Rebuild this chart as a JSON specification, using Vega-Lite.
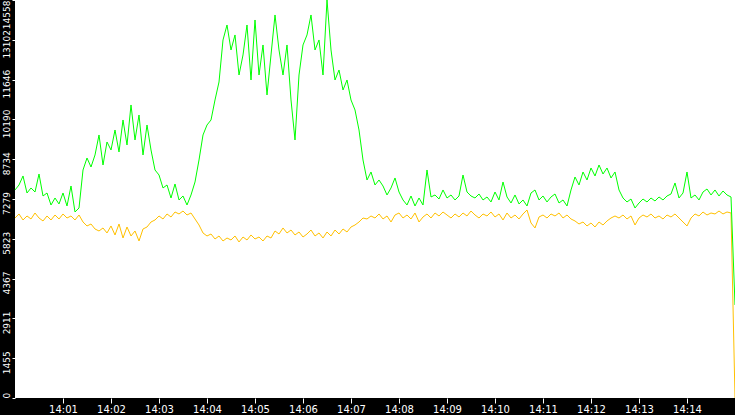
{
  "$schema": "https://vega.github.io/schema/vega-lite/v6.json",
  "width": 720,
  "height": 398,
  "autosize": "none",
  "padding": {"left": 15, "top": 0, "right": 0, "bottom": 17},
  "background": "#000000",
  "data": {
    "format": {"parse": {"t": "date:'%H:%M:%S'"}},
    "values": [
      {"t":"14:00:00","g":7609,"y":6584},{"t":"14:00:05","g":7792,"y":6731},{"t":"14:00:10","g":8121,"y":6511},{"t":"14:00:15","g":7499,"y":6658},
      {"t":"14:00:20","g":7682,"y":6548},{"t":"14:00:25","g":7535,"y":6767},{"t":"14:00:30","g":8194,"y":6584},{"t":"14:00:35","g":7389,"y":6475},
      {"t":"14:00:40","g":7499,"y":6658},{"t":"14:00:45","g":7060,"y":6511},{"t":"14:00:50","g":7316,"y":6694},{"t":"14:00:55","g":7097,"y":6548},
      {"t":"14:01:00","g":7499,"y":6731},{"t":"14:01:05","g":7023,"y":6584},{"t":"14:01:10","g":7755,"y":6658},{"t":"14:01:15","g":6804,"y":6511},
      {"t":"14:01:20","g":6950,"y":6694},{"t":"14:01:25","g":8340,"y":6438},{"t":"14:01:30","g":8779,"y":6292},{"t":"14:01:35","g":8450,"y":6365},
      {"t":"14:01:40","g":8889,"y":6182},{"t":"14:01:45","g":9621,"y":6109},{"t":"14:01:50","g":8523,"y":6219},{"t":"14:01:55","g":9364,"y":6036},
      {"t":"14:02:00","g":9072,"y":6292},{"t":"14:02:05","g":9803,"y":5963},{"t":"14:02:10","g":8999,"y":6365},{"t":"14:02:15","g":10169,"y":5853},
      {"t":"14:02:20","g":9255,"y":6255},{"t":"14:02:25","g":10718,"y":5926},{"t":"14:02:30","g":9438,"y":6109},{"t":"14:02:35","g":10352,"y":5743},
      {"t":"14:02:40","g":8889,"y":6182},{"t":"14:02:45","g":9986,"y":6255},{"t":"14:02:50","g":9072,"y":6438},{"t":"14:02:55","g":8340,"y":6511},
      {"t":"14:03:00","g":8157,"y":6658},{"t":"14:03:05","g":7682,"y":6548},{"t":"14:03:10","g":7792,"y":6731},{"t":"14:03:15","g":7316,"y":6621},
      {"t":"14:03:20","g":7828,"y":6804},{"t":"14:03:25","g":7243,"y":6731},{"t":"14:03:30","g":7389,"y":6840},{"t":"14:03:35","g":7060,"y":6694},
      {"t":"14:03:40","g":7426,"y":6767},{"t":"14:03:45","g":7901,"y":6548},{"t":"14:03:50","g":8706,"y":6328},{"t":"14:03:55","g":9621,"y":6036},
      {"t":"14:04:00","g":9986,"y":5926},{"t":"14:04:05","g":10169,"y":5999},{"t":"14:04:10","g":10901,"y":5816},{"t":"14:04:15","g":11559,"y":5926},
      {"t":"14:04:20","g":13096,"y":5743},{"t":"14:04:25","g":13644,"y":5853},{"t":"14:04:30","g":12730,"y":5780},{"t":"14:04:35","g":13279,"y":5926},
      {"t":"14:04:40","g":11815,"y":5707},{"t":"14:04:45","g":12547,"y":5889},{"t":"14:04:50","g":13644,"y":5780},{"t":"14:04:55","g":11632,"y":5963},
      {"t":"14:05:00","g":13827,"y":5816},{"t":"14:05:05","g":11815,"y":5889},{"t":"14:05:10","g":12913,"y":5743},{"t":"14:05:15","g":11084,"y":5926},
      {"t":"14:05:20","g":12547,"y":5853},{"t":"14:05:25","g":14010,"y":6109},{"t":"14:05:30","g":12730,"y":5999},{"t":"14:05:35","g":11815,"y":6219},
      {"t":"14:05:40","g":12913,"y":6036},{"t":"14:05:45","g":10901,"y":6145},{"t":"14:05:50","g":9438,"y":5963},{"t":"14:05:55","g":11815,"y":6072},
      {"t":"14:06:00","g":12913,"y":5889},{"t":"14:06:05","g":13279,"y":5999},{"t":"14:06:10","g":14010,"y":6145},{"t":"14:06:15","g":12730,"y":5926},
      {"t":"14:06:20","g":13096,"y":6036},{"t":"14:06:25","g":11815,"y":5853},{"t":"14:06:30","g":14558,"y":6072},{"t":"14:06:35","g":12730,"y":5926},
      {"t":"14:06:40","g":11632,"y":6145},{"t":"14:06:45","g":11998,"y":5999},{"t":"14:06:50","g":11266,"y":6182},{"t":"14:06:55","g":11632,"y":6072},
      {"t":"14:07:00","g":10901,"y":6255},{"t":"14:07:05","g":10535,"y":6328},{"t":"14:07:10","g":9803,"y":6438},{"t":"14:07:15","g":8706,"y":6584},
      {"t":"14:07:20","g":7974,"y":6548},{"t":"14:07:25","g":8267,"y":6658},{"t":"14:07:30","g":7792,"y":6584},{"t":"14:07:35","g":7974,"y":6731},
      {"t":"14:07:40","g":7755,"y":6548},{"t":"14:07:45","g":7426,"y":6658},{"t":"14:07:50","g":7682,"y":6438},{"t":"14:07:55","g":8048,"y":6694},
      {"t":"14:08:00","g":7535,"y":6767},{"t":"14:08:05","g":7243,"y":6584},{"t":"14:08:10","g":7060,"y":6694},{"t":"14:08:15","g":7389,"y":6548},
      {"t":"14:08:20","g":7023,"y":6767},{"t":"14:08:25","g":7316,"y":6438},{"t":"14:08:30","g":7060,"y":6621},{"t":"14:08:35","g":8340,"y":6731},
      {"t":"14:08:40","g":7353,"y":6584},{"t":"14:08:45","g":7426,"y":6767},{"t":"14:08:50","g":7279,"y":6658},{"t":"14:08:55","g":7609,"y":6804},
      {"t":"14:09:00","g":7316,"y":6694},{"t":"14:09:05","g":7426,"y":6584},{"t":"14:09:10","g":7243,"y":6731},{"t":"14:09:15","g":7389,"y":6621},
      {"t":"14:09:20","g":8157,"y":6767},{"t":"14:09:25","g":7535,"y":6658},{"t":"14:09:30","g":7389,"y":6840},{"t":"14:09:35","g":7316,"y":6694},
      {"t":"14:09:40","g":7462,"y":6584},{"t":"14:09:45","g":7243,"y":6731},{"t":"14:09:50","g":7353,"y":6658},{"t":"14:09:55","g":7170,"y":6804},
      {"t":"14:10:00","g":7535,"y":6621},{"t":"14:10:05","g":7243,"y":6731},{"t":"14:10:10","g":7901,"y":6511},{"t":"14:10:15","g":7353,"y":6767},
      {"t":"14:10:20","g":7133,"y":6584},{"t":"14:10:25","g":7426,"y":6694},{"t":"14:10:30","g":7097,"y":6548},{"t":"14:10:35","g":7243,"y":6731},
      {"t":"14:10:40","g":7023,"y":6877},{"t":"14:10:45","g":7499,"y":6402},{"t":"14:10:50","g":7609,"y":6219},{"t":"14:10:55","g":7243,"y":6621},
      {"t":"14:11:00","g":7389,"y":6694},{"t":"14:11:05","g":7170,"y":6584},{"t":"14:11:10","g":7353,"y":6731},{"t":"14:11:15","g":7462,"y":6658},
      {"t":"14:11:20","g":7133,"y":6767},{"t":"14:11:25","g":7243,"y":6584},{"t":"14:11:30","g":7023,"y":6694},{"t":"14:11:35","g":7609,"y":6548},
      {"t":"14:11:40","g":8084,"y":6475},{"t":"14:11:45","g":7792,"y":6365},{"t":"14:11:50","g":8267,"y":6438},{"t":"14:11:55","g":7974,"y":6292},
      {"t":"14:12:00","g":8413,"y":6402},{"t":"14:12:05","g":8121,"y":6255},{"t":"14:12:10","g":8523,"y":6438},{"t":"14:12:15","g":8194,"y":6328},
      {"t":"14:12:20","g":8413,"y":6475},{"t":"14:12:25","g":8048,"y":6584},{"t":"14:12:30","g":8267,"y":6658},{"t":"14:12:35","g":7609,"y":6584},
      {"t":"14:12:40","g":7316,"y":6694},{"t":"14:12:45","g":7170,"y":6548},{"t":"14:12:50","g":7279,"y":6658},{"t":"14:12:55","g":6950,"y":6328},
      {"t":"14:13:00","g":7133,"y":6584},{"t":"14:13:05","g":7279,"y":6694},{"t":"14:13:10","g":7170,"y":6621},{"t":"14:13:15","g":7316,"y":6731},
      {"t":"14:13:20","g":7206,"y":6584},{"t":"14:13:25","g":7353,"y":6658},{"t":"14:13:30","g":7243,"y":6548},{"t":"14:13:35","g":7389,"y":6694},
      {"t":"14:13:40","g":7462,"y":6621},{"t":"14:13:45","g":7865,"y":6731},{"t":"14:13:50","g":7316,"y":6584},{"t":"14:13:55","g":7499,"y":6438},
      {"t":"14:14:00","g":8267,"y":6292},{"t":"14:14:05","g":7316,"y":6584},{"t":"14:14:10","g":7426,"y":6731},{"t":"14:14:15","g":7243,"y":6658},
      {"t":"14:14:20","g":7535,"y":6804},{"t":"14:14:25","g":7645,"y":6694},{"t":"14:14:30","g":7426,"y":6767},{"t":"14:14:35","g":7609,"y":6731},
      {"t":"14:14:40","g":7389,"y":6840},{"t":"14:14:45","g":7572,"y":6731},{"t":"14:14:50","g":7426,"y":6804},{"t":"14:14:55","g":7353,"y":6767},
      {"t":"14:15:00","g":3402,"y":0}
    ]
  },
  "encoding": {
    "x": {
      "field": "t",
      "type": "temporal",
      "scale": {"nice": false},
      "axis": {
        "title": null,
        "format": "%H:%M",
        "values": [
          {"year": 1900, "month": 1, "date": 1, "hours": 14, "minutes": 1},
          {"year": 1900, "month": 1, "date": 1, "hours": 14, "minutes": 2},
          {"year": 1900, "month": 1, "date": 1, "hours": 14, "minutes": 3},
          {"year": 1900, "month": 1, "date": 1, "hours": 14, "minutes": 4},
          {"year": 1900, "month": 1, "date": 1, "hours": 14, "minutes": 5},
          {"year": 1900, "month": 1, "date": 1, "hours": 14, "minutes": 6},
          {"year": 1900, "month": 1, "date": 1, "hours": 14, "minutes": 7},
          {"year": 1900, "month": 1, "date": 1, "hours": 14, "minutes": 8},
          {"year": 1900, "month": 1, "date": 1, "hours": 14, "minutes": 9},
          {"year": 1900, "month": 1, "date": 1, "hours": 14, "minutes": 10},
          {"year": 1900, "month": 1, "date": 1, "hours": 14, "minutes": 11},
          {"year": 1900, "month": 1, "date": 1, "hours": 14, "minutes": 12},
          {"year": 1900, "month": 1, "date": 1, "hours": 14, "minutes": 13},
          {"year": 1900, "month": 1, "date": 1, "hours": 14, "minutes": 14}
        ],
        "tickCount": 30,
        "tickSize": 5,
        "labelPadding": 1,
        "labelAngle": 0
      }
    }
  },
  "layer": [
    {
      "mark": {"type": "line", "color": "#ffc000", "strokeWidth": 1},
      "encoding": {
        "y": {
          "field": "y",
          "type": "quantitative",
          "scale": {"domain": [0, 14558], "nice": false},
          "axis": {
            "title": null,
            "values": [0, 1455.8, 2911.6, 4367.4, 5823.2, 7279, 8734.8, 10190.6, 11646.4, 13102.2, 14558],
            "tickCount": 30,
            "labelExpr": "'' + floor(datum.value)",
            "labelAngle": -90,
            "labelFlush": false,
            "labelOverlap": false,
            "labelFontSize": 9,
            "labelAlign": {
              "condition": [
                {"test": "datum.value == 0", "value": "left"},
                {"test": "datum.value == 14558", "value": "right"}
              ],
              "value": "center"
            },
            "labelOffset": {
              "condition": {"test": "datum.value == 0 || datum.value == 14558", "value": 0},
              "value": 4
            },
            "labelBaseline": "bottom",
            "tickSize": 3,
            "labelPadding": 1
          }
        }
      }
    },
    {
      "mark": {"type": "line", "color": "#00ff00", "strokeWidth": 1},
      "encoding": {"y": {"field": "g", "type": "quantitative"}}
    }
  ],
  "config": {
    "view": {"fill": "#ffffff", "stroke": null},
    "axis": {
      "grid": false,
      "domain": false,
      "labelColor": "#ffffff",
      "tickColor": "#ffffff",
      "labelFont": "DejaVu Sans",
      "labelFontSize": 10
    }
  }
}
